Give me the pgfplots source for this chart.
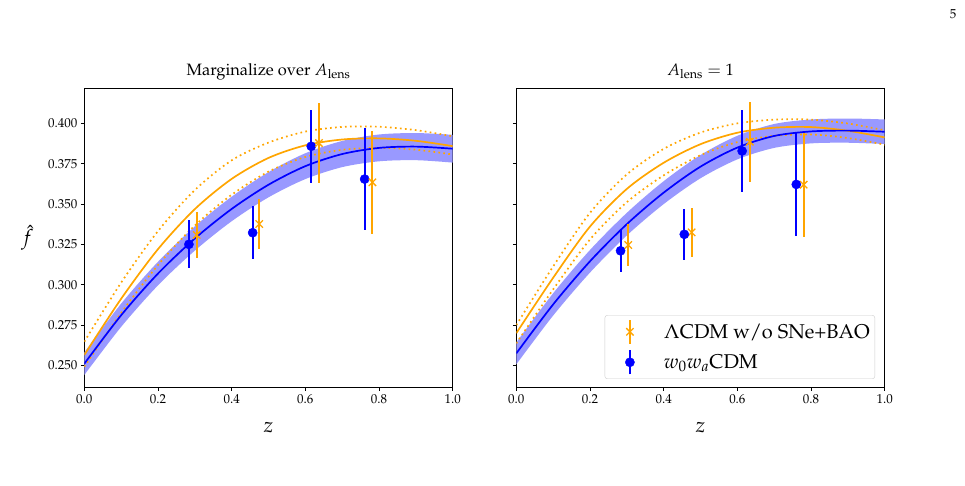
\documentclass[border=0pt]{standalone}
\usepackage[T1]{fontenc}
\usepackage{mathpazo}
\usepackage{pgfplots}
\usepackage{pgfplotstable}
\pgfplotsset{compat=1.18}
\usepgfplotslibrary{fillbetween}

\definecolor{mplorange}{RGB}{255,165,0}
\definecolor{mplblue}{RGB}{0,0,255}
\definecolor{bandblue}{RGB}{153,153,255}

% theory curves: z, w0waCDM band (hi, lo), w0waCDM mean, LCDM mean and its 1-sigma edges
\pgfplotstableread{
z    bhi    blo    blue   osol   oup    olow
0.0  0.2582 0.2442 0.2512 0.2566 0.2648 0.2493
0.1  0.2884 0.2740 0.2812 0.2914 0.3014 0.2826
0.2  0.3143 0.2997 0.3070 0.3221 0.3333 0.3123
0.3  0.3362 0.3212 0.3287 0.3469 0.3587 0.3367
0.4  0.3546 0.3394 0.3470 0.3656 0.3771 0.3558
0.5  0.3698 0.3542 0.3620 0.3786 0.3881 0.3701
0.6  0.3815 0.3655 0.3735 0.3864 0.3949 0.3792
0.7  0.3891 0.3729 0.3810 0.3900 0.3978 0.3836
0.8  0.3931 0.3765 0.3848 0.3907 0.3979 0.3848
0.9  0.3940 0.3772 0.3856 0.3892 0.3958 0.3837
1.0  0.3929 0.3757 0.3843 0.3859 0.3920 0.3807
}\curvesmarg

\pgfplotstableread{
z    bhi    blo    blue   osol   oup    olow
0.0  0.2644 0.2508 0.2576 0.2701 0.2751 0.2638
0.1  0.2948 0.2810 0.2879 0.3044 0.3114 0.2972
0.2  0.3216 0.3076 0.3146 0.3361 0.3446 0.3281
0.3  0.3446 0.3306 0.3376 0.3594 0.3684 0.3512
0.4  0.3642 0.3500 0.3571 0.3756 0.3842 0.3678
0.5  0.3804 0.3660 0.3732 0.3871 0.3943 0.3803
0.6  0.3923 0.3777 0.3850 0.3942 0.4000 0.3884
0.7  0.3996 0.3848 0.3922 0.3973 0.4023 0.3923
0.8  0.4024 0.3876 0.3950 0.3977 0.4023 0.3931
0.9  0.4030 0.3880 0.3955 0.3954 0.3999 0.3909
1.0  0.4024 0.3872 0.3948 0.3913 0.3957 0.3868
}\curvesfixed

% measurements: z, value, error
\pgfplotstableread{
z     v      e
0.284 0.3251 0.0148
0.457 0.3323 0.0163
0.616 0.3858 0.0226
0.761 0.3655 0.0316
}\bluemarg
\pgfplotstableread{
z     v      e
0.305 0.3309 0.0140
0.475 0.3377 0.0157
0.637 0.3878 0.0250
0.782 0.3635 0.0317
}\orangemarg
\pgfplotstableread{
z     v      e
0.283 0.3211 0.0131
0.456 0.3313 0.0158
0.613 0.3829 0.0252
0.760 0.3622 0.0322
}\bluefixed
\pgfplotstableread{
z     v      e
0.304 0.3247 0.0130
0.476 0.3325 0.0153
0.634 0.3886 0.0248
0.780 0.3620 0.0321
}\orangefixed

\pgfplotsset{
  fpanel/.style={
    scale only axis, width=368.4bp, height=299bp,
    xmin=0, xmax=1, ymin=0.2366, ymax=0.4217,
    axis line style={line width=0.8bp},
    tick pos=left, tick align=outside, major tick length=3.5bp,
    tick style={line width=0.8bp, black},
    xtick={0,0.2,0.4,0.6,0.8,1.0},
    ytick={0.25,0.275,0.3,0.325,0.35,0.375,0.4},
    xticklabel style={/pgf/number format/.cd, fixed, fixed zerofill, precision=1},
    yticklabel style={/pgf/number format/.cd, fixed, fixed zerofill, precision=3},
    tick label style={font=\fontsize{13}{15}\selectfont},
    xlabel={$z$},
    xlabel style={at={(axis description cs:0.5,0)}, anchor=base, yshift=-45.7bp,
                  font=\fontsize{21}{24}\selectfont},
    title style={at={(axis description cs:0.5,1)}, anchor=base, yshift=7bp,
                 font=\fontsize{16.5}{19}\selectfont},
  },
  band/.style={fill=bandblue, draw=none, forget plot},
  curve/.style={smooth, forget plot, line width=1.7bp},
  dotcurve/.style={smooth, forget plot, line width=1.7bp, dash pattern=on 1.7bp off 3.3bp},
  bluepts/.style={only marks, mplblue, mark=*, mark size=4.6bp,
    error bars/y dir=both, error bars/y explicit, error bars/error mark=none,
    error bars/error bar style={line width=2bp, mplblue}},
  orangepts/.style={only marks, mplorange, mark=x, mark size=5.2bp,
    mark options={line width=1.3bp},
    error bars/y dir=both, error bars/y explicit, error bars/error mark=none,
    error bars/error bar style={line width=2bp, mplorange}},
}

\begin{document}
\begin{tikzpicture}
\path (0bp,0bp) rectangle (965bp,486bp);
\node[anchor=base, font=\fontsize{13}{15}\selectfont] at (953bp,467bp) {5};

% ---------------- left panel ----------------
\begin{axis}[fpanel, at={(84.3bp,98.7bp)}, anchor=south west,
  title={Marginalize over $A_{\rm lens}$},
  ylabel={$\hat{f}$},
  ylabel style={at={(axis description cs:0,0.5)}, anchor=center, rotate=-90,
                xshift=-57bp, font=\fontsize{21}{24}\selectfont},
]
\addplot[name path=hiA, draw=none, smooth, forget plot] table[x=z, y=bhi]{\curvesmarg};
\addplot[name path=loA, draw=none, smooth, forget plot] table[x=z, y=blo]{\curvesmarg};
\addplot[band] fill between[of=hiA and loA];
\addplot[dotcurve, mplorange] table[x=z, y=oup]{\curvesmarg};
\addplot[dotcurve, mplorange] table[x=z, y=olow]{\curvesmarg};
\addplot[curve, mplorange] table[x=z, y=osol]{\curvesmarg};
\addplot[curve, mplblue] table[x=z, y=blue]{\curvesmarg};
\addplot[bluepts] table[x=z, y=v, y error=e]{\bluemarg};
\addplot[orangepts] table[x=z, y=v, y error=e]{\orangemarg};
\end{axis}

% ---------------- right panel ----------------
\begin{axis}[fpanel, at={(516.3bp,98.7bp)}, anchor=south west,
  title={$A_{\rm lens}=1$},
  yticklabels={},
  legend cell align=left,
  legend style={at={(axis description cs:1,0)}, anchor=south east,
    xshift=-9.7bp, yshift=8.3bp, draw=black!20, rounded corners=2.5bp,
    font=\fontsize{20}{23}\selectfont, inner xsep=3bp, inner ysep=3.5bp,
    row sep=4.5bp},
]
\addplot[name path=hiB, draw=none, smooth, forget plot] table[x=z, y=bhi]{\curvesfixed};
\addplot[name path=loB, draw=none, smooth, forget plot] table[x=z, y=blo]{\curvesfixed};
\addplot[band] fill between[of=hiB and loB];
\addplot[dotcurve, mplorange] table[x=z, y=oup]{\curvesfixed};
\addplot[dotcurve, mplorange] table[x=z, y=olow]{\curvesfixed};
\addplot[curve, mplorange] table[x=z, y=osol]{\curvesfixed};
\addplot[curve, mplblue] table[x=z, y=blue]{\curvesfixed};
\addplot[orangepts,
  legend image code/.code={
    \path[draw=none, fill=none] (0bp,-12bp) (54bp,12bp);
    \draw[mplorange, line width=2bp] (22bp,-12bp) -- (22bp,12bp);
    \draw[mplorange, line width=1.3bp] plot[mark=x, mark size=5.2bp] coordinates {(22bp,0bp)};
  }] table[x=z, y=v, y error=e]{\orangefixed};
\addlegendentry{$\Lambda$CDM w/o SNe+BAO}
\addplot[bluepts,
  legend image code/.code={
    \path[draw=none, fill=none] (0bp,-12bp) (54bp,12bp);
    \draw[mplblue, line width=2bp] (22bp,-12bp) -- (22bp,12bp);
    \fill[mplblue] (22bp,0bp) circle (4.6bp);
  }] table[x=z, y=v, y error=e]{\bluefixed};
\addlegendentry{$w_0w_a$CDM}
\end{axis}
\end{tikzpicture}
\end{document}
